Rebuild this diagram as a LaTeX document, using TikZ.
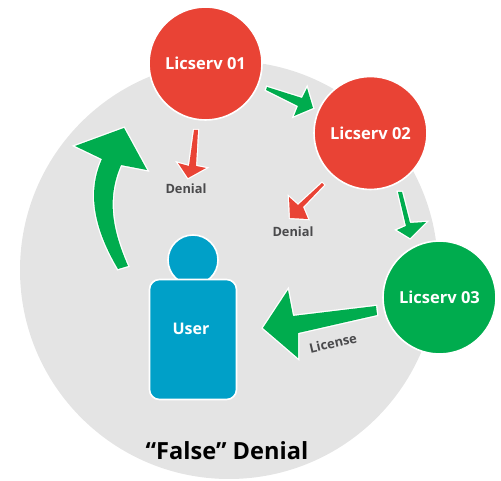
\documentclass[tikz,border=0pt]{standalone}
\usepackage{fontspec}
\setmainfont{Open Sans}
\definecolor{licred}{HTML}{E94335}
\definecolor{licgreen}{HTML}{00AC4E}
\definecolor{licblue}{HTML}{00A0C8}
\definecolor{ringgray}{HTML}{E4E4E4}
\definecolor{labelgray}{HTML}{4A4A4C}
\tikzset{
  server/.style={circle,draw=white,line width=1.6pt,minimum size=113pt,inner sep=0pt,text=white,font=\fontsize{16.5}{18}\selectfont\bfseries},
  denial/.style={text=labelgray,inner sep=0pt,font=\fontsize{12.8}{15}\selectfont\bfseries},
  greenarrow/.style={fill=licgreen,preaction={draw=white,line width=2.6pt,miter limit=10}},
  redarrow/.style={fill=licred,preaction={draw=white,line width=2.4pt,miter limit=10}}
}
\begin{document}
\begin{tikzpicture}[x=1pt,y=-1pt]
      \useasboundingbox (0,0) rectangle (501,481);
      \fill[ringgray] (229,270) circle (209);
      \node[server,fill=licred] (serv1) at (205.5,63.5) {Licserv 01};
      \node[server,fill=licred] (serv2) at (370.5,133) {Licserv 02};
      \node[server,fill=licgreen] (serv3) at (439.5,297.5) {Licserv 03};
      \node[circle,fill=licblue,draw=white,line width=1.6pt,minimum size=50pt,inner sep=0pt] (head) at (193,260) {};
      \node[rectangle,rounded corners=10pt,fill=licblue,draw=white,line width=1.6pt,minimum width=87pt,minimum height=120pt,inner sep=0pt] (user) at (193,339.5) {};
      \node[text=white,inner sep=0pt,font=\fontsize{16}{18}\selectfont\bfseries] (userlabel) at (191,329) {User};
      \node[denial] (denial1) at (186,189) {Denial};
      \node[denial] (denial2) at (293,232) {Denial};
      \node[denial,rotate=13,font=\fontsize{13}{15}\selectfont\bfseries] (license) at (333,343) {License};
      \node[inner sep=0pt,font=\fontsize{23.6}{26}\selectfont\bfseries] (title) at (227,451) {“False” Denial};
      \begin{scope}[line join=miter]
        % return to the first server
        \fill[greenarrow] (124,128) -- (75,146) -- (102,159)
          .. controls (88,190) and (92,225) .. (118,269) -- (128,266)
          .. controls (110,225) and (108,195) .. (121,165) -- (147,170) -- cycle;
        \fill[greenarrow] (267,87) -- (302,98) -- (307,88) -- (313,108) -- (294,116) -- (298,106) -- (266,90) -- cycle;
        \fill[greenarrow] (398,192) -- (402,192) -- (410,223) -- (426,222) -- (410,238) -- (397,230) -- (406,226) -- cycle;
        \fill[greenarrow] (376,306) -- (377,315) -- (298,333) -- (298,358) -- (263,328) -- (288,290) -- (293,316) -- cycle;
        % denials
        \fill[redarrow] (194,130) -- (198,130) -- (196,166) -- (206,168) -- (188,178) -- (178,163) -- (189,166) -- cycle;
        \fill[redarrow] (322,183) -- (324,185) -- (303,207) -- (308,219) -- (290,218) -- (289,197) -- (298,205) -- cycle;
      \end{scope}
    \end{tikzpicture}
\end{document}
